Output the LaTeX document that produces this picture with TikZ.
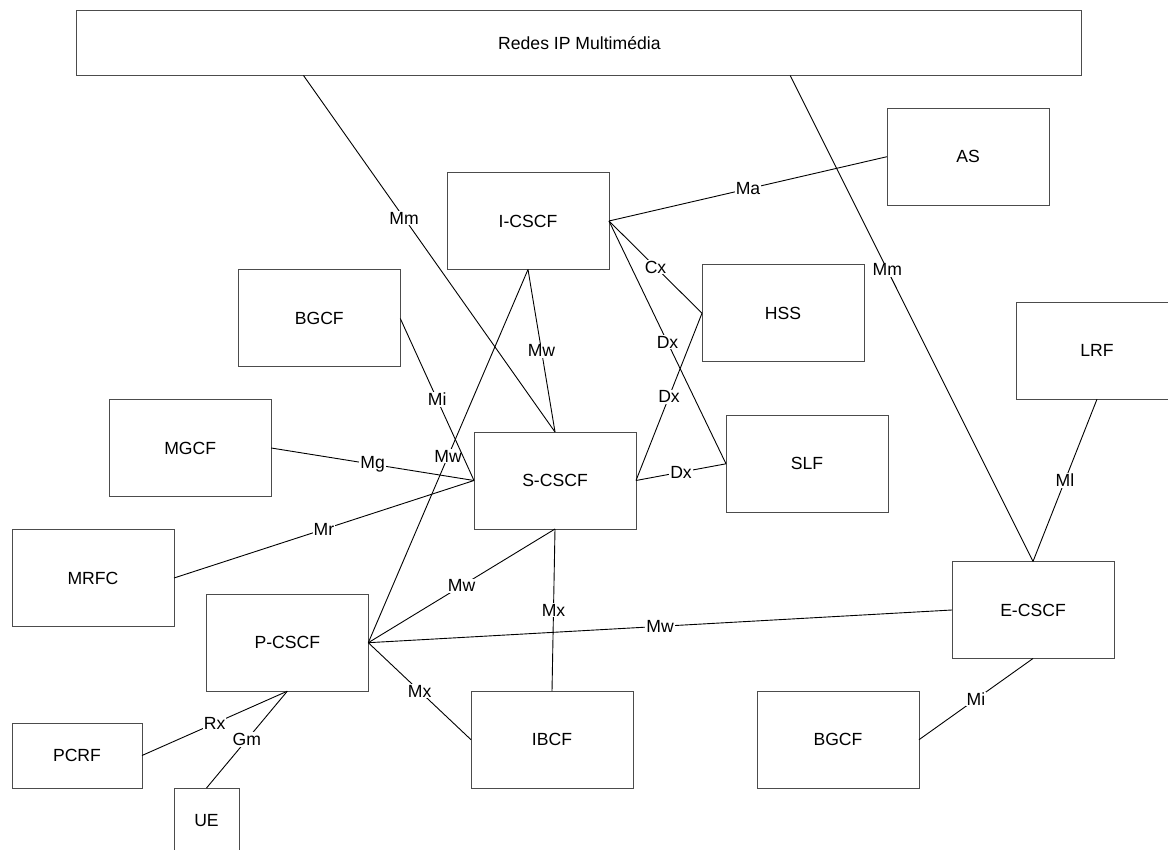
\documentclass[tikz,border=0pt]{standalone}
\usepackage{fontspec}
\setmainfont{Liberation Sans}
\begin{document}
\begin{tikzpicture}[x=1pt,y=-1pt,
  font=\fontsize{17.6}{20}\selectfont,
  box/.style={draw=black!70, line width=1pt, minimum width=162pt, minimum height=97pt,
    inner sep=0pt, outer sep=0pt},
  smallbox/.style={box, minimum width=130pt, minimum height=65pt},
  tinybox/.style={box, minimum width=65pt, minimum height=65pt},
  link/.style={draw=black, line width=0.9pt},
  lbl/.style={fill=white, inner sep=1pt}]
\useasboundingbox (0,0) rectangle (1168,850);

% network functions
\node[box, minimum width=1005pt, minimum height=65pt] (redes) at (579.4,43) {Redes IP Multimédia};
\node[box] (as)    at (968,156.7)   {AS};
\node[box] (icscf) at (528,221)     {I-CSCF};
\node[box] (bgcfl) at (319.3,318.5) {BGCF};
\node[box] (hss)   at (783,313.2)   {HSS};
\node[box] (lrf)   at (1097,350.7)  {LRF};
\node[box] (mgcf)  at (190.2,448)   {MGCF};
\node[box] (scscf) at (555,480.5)   {S-CSCF};
\node[box] (slf)   at (807,463.8)   {SLF};
\node[box] (mrfc)  at (93,578)      {MRFC};
\node[box] (ecscf) at (1033,610)    {E-CSCF};
\node[box] (pcscf) at (287.3,642.7) {P-CSCF};
\node[box] (ibcf)  at (552,739.7)   {IBCF};
\node[box] (bgcfr) at (838,739.7)   {BGCF};
\node[smallbox] (pcrf) at (77,755.5) {PCRF};
\node[tinybox] (ue) at (206.5,820.5) {UE};

% attachment points on the IP multimedia network box
\coordinate (redesL) at ([xshift=226.6pt]redes.south west);
\coordinate (redesR) at ([xshift=713.3pt]redes.south west);

% reference points
\draw[link] (redesL) -- node[lbl,pos=0.4]{Mm} (scscf.north);
\draw[link] (redesR) -- node[lbl,pos=0.4]{Mm} (ecscf.north);
\draw[link] (icscf.east) -- node[lbl]{Ma} (as.west);
\draw[link] (icscf.east) -- node[lbl]{Cx} (hss.west);
\draw[link] (icscf.east) -- node[lbl]{Dx} (slf.west);
\draw[link] (hss.west) -- node[lbl]{Dx} (scscf.east);
\draw[link] (scscf.east) -- node[lbl]{Dx} (slf.west);
\draw[link] (icscf.south) -- node[lbl]{Mw} (scscf.north);
\draw[link] (icscf.south) -- node[lbl]{Mw} (pcscf.east);
\draw[link] (bgcfl.east) -- node[lbl]{Mi} (scscf.west);
\draw[link] (mgcf.east) -- node[lbl]{Mg} (scscf.west);
\draw[link] (mrfc.east) -- node[lbl]{Mr} (scscf.west);
\draw[link] (scscf.south) -- node[lbl]{Mw} (pcscf.east);
\draw[link] (scscf.south) -- node[lbl]{Mx} (ibcf.north);
\draw[link] (pcscf.east) -- node[lbl]{Mw} (ecscf.west);
\draw[link] (pcscf.east) -- node[lbl]{Mx} (ibcf.west);
\draw[link] (pcscf.south) -- node[lbl]{Rx} (pcrf.east);
\draw[link] (pcscf.south) -- node[lbl]{Gm} (ue.north);
\draw[link] (lrf.south) -- node[lbl]{Ml} (ecscf.north);
\draw[link] (ecscf.south) -- node[lbl]{Mi} (bgcfr.east);
\end{tikzpicture}
\end{document}
